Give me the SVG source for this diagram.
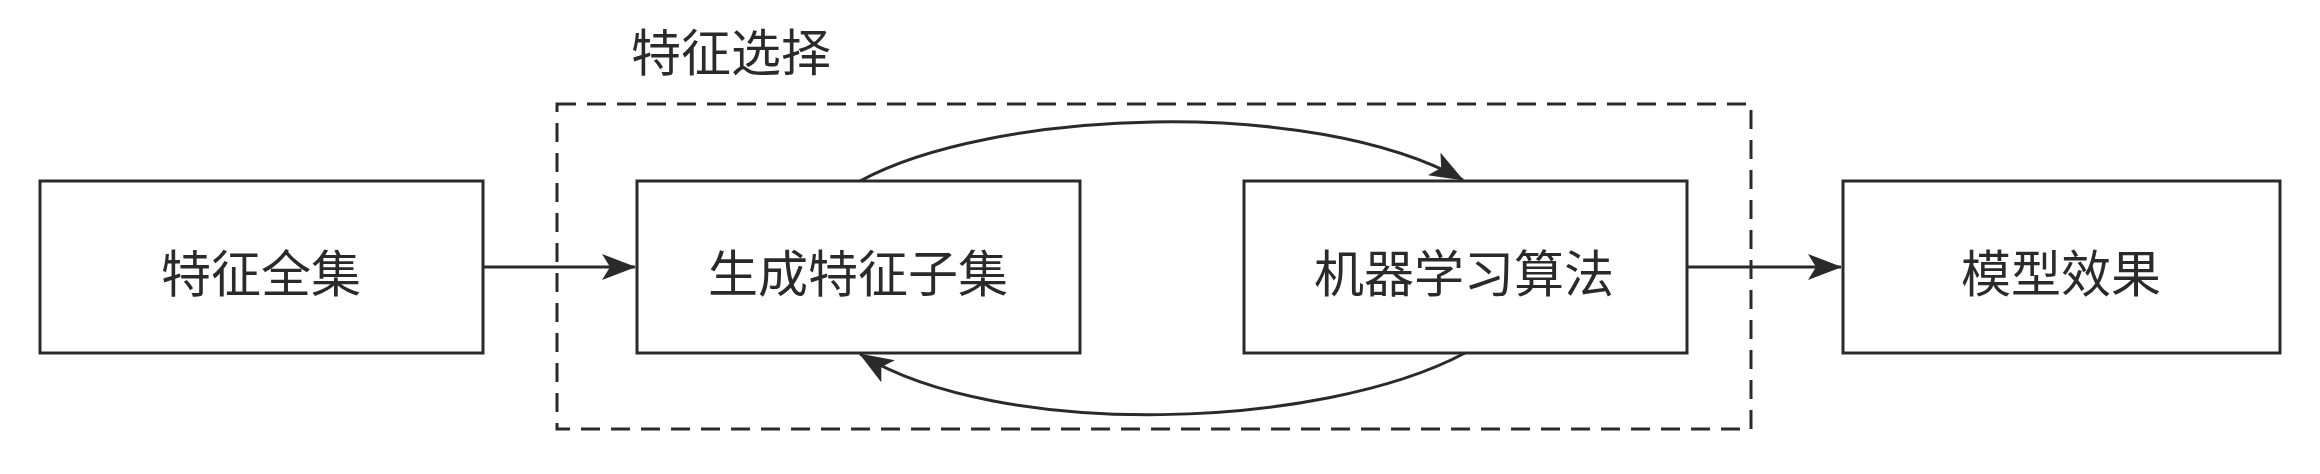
<svg xmlns="http://www.w3.org/2000/svg" width="2320" height="474" viewBox="0 0 2320 474">
<style>
.box{fill:#fff;stroke:#2a2a2a;stroke-width:3}
.lbl{font-family:"Noto Sans CJK SC","Liberation Sans",sans-serif;font-size:50px;fill:#2a2a2a;text-anchor:middle;dominant-baseline:central}
.conn{fill:none;stroke:#2a2a2a;stroke-width:3}
.dash{fill:none;stroke:#2a2a2a;stroke-width:3;stroke-dasharray:19 11}
</style>
<defs>
<marker id="ah" viewBox="0 0 34 26" refX="33" refY="13" markerWidth="34" markerHeight="26" markerUnits="userSpaceOnUse" orient="auto">
<path d="M0,0 L34,13 L0,26 L8,13 Z" fill="#2a2a2a"/>
</marker>
</defs>
<rect fill="#fff" width="2320" height="474"/>
<g id="group-select">
<rect class="dash" x="557" y="104" width="1194" height="325"/>
<text class="lbl" x="731" y="49">特征选择</text>
</g>
<g id="node-full">
<rect class="box" x="40" y="181" width="443" height="172"/>
<text class="lbl" x="261" y="270">特征全集</text>
</g>
<g id="node-subset">
<rect class="box" x="637" y="181" width="443" height="172"/>
<text class="lbl" x="858" y="270">生成特征子集</text>
</g>
<g id="node-ml">
<rect class="box" x="1244" y="181" width="443" height="172"/>
<text class="lbl" x="1464" y="270">机器学习算法</text>
</g>
<g id="node-effect">
<rect class="box" x="1843" y="181" width="437" height="172"/>
<text class="lbl" x="2061" y="270">模型效果</text>
</g>
<g id="connectors">
<path class="conn" d="M483,267 L635,267" marker-end="url(#ah)"/>
<path class="conn" d="M1687,267 L1841,267" marker-end="url(#ah)"/>
<path class="conn" d="M860,181 C990,110 1310,95 1463,180" marker-end="url(#ah)"/>
<path class="conn" d="M1465,353 C1320,430 1000,440 860,354" marker-end="url(#ah)"/>
</g>
</svg>
